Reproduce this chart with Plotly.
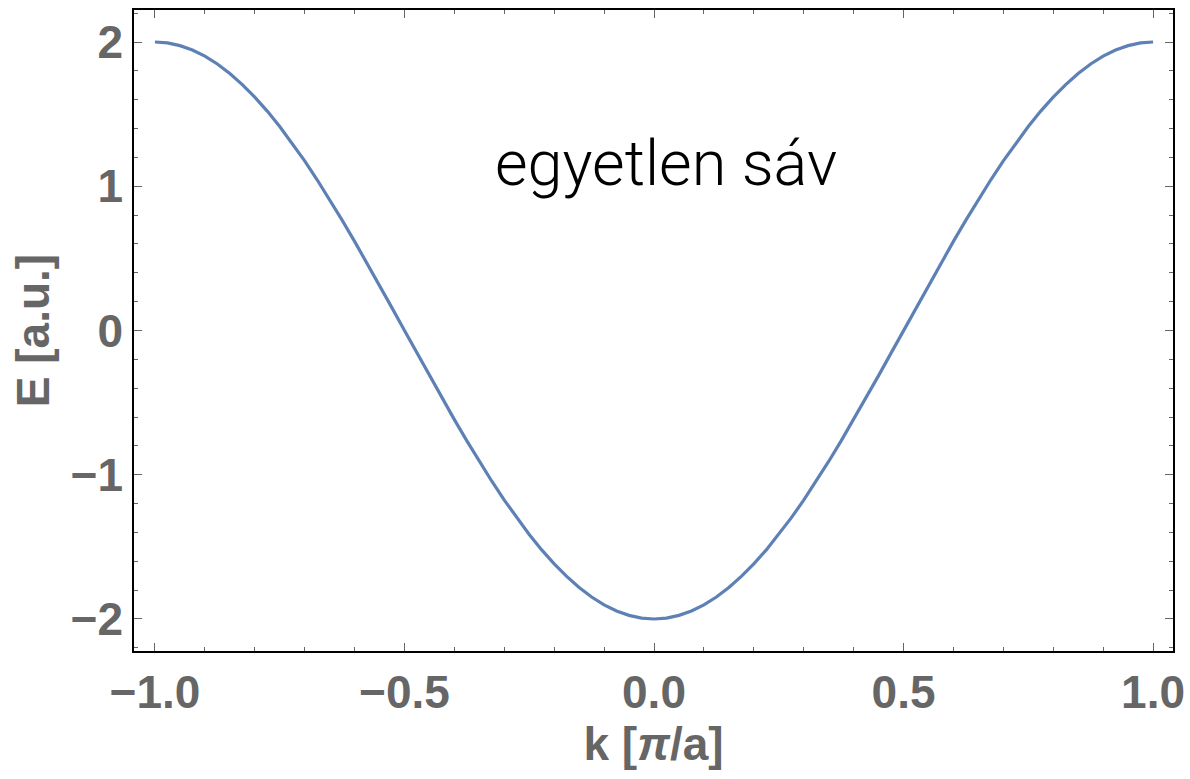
import plotly.graph_objects as go

# Data
k_values = [-1.0, -0.975, -0.95, -0.925, -0.9, -0.875, -0.85, -0.825, -0.8, -0.775,
            -0.75, -0.725, -0.7, -0.675, -0.65, -0.625, -0.6, -0.575, -0.55, -0.525,
            -0.5, -0.475, -0.45, -0.425, -0.4, -0.375, -0.35, -0.325, -0.3, -0.275,
            -0.25, -0.225, -0.2, -0.175, -0.15, -0.125, -0.1, -0.075, -0.05, -0.025,
            0.0, 0.025, 0.05, 0.075, 0.1, 0.125, 0.15, 0.175, 0.2, 0.225,
            0.25, 0.275, 0.3, 0.325, 0.35, 0.375, 0.4, 0.425, 0.45, 0.475,
            0.5, 0.525, 0.55, 0.575, 0.6, 0.625, 0.65, 0.675, 0.7, 0.725,
            0.75, 0.775, 0.8, 0.825, 0.85, 0.875, 0.9, 0.925, 0.95, 0.975, 1.0]
E_values = [2.000, 1.994, 1.975, 1.945, 1.902, 1.848, 1.782, 1.705, 1.618, 1.521,
            1.414, 1.299, 1.176, 1.045, 0.908, 0.765, 0.618, 0.467, 0.313, 0.157,
            0.000, -0.157, -0.313, -0.467, -0.618, -0.765, -0.908, -1.045, -1.176, -1.299,
            -1.414, -1.521, -1.618, -1.705, -1.782, -1.848, -1.902, -1.945, -1.975, -1.994,
            -2.000, -1.994, -1.975, -1.945, -1.902, -1.848, -1.782, -1.705, -1.618, -1.521,
            -1.414, -1.299, -1.176, -1.045, -0.908, -0.765, -0.618, -0.467, -0.313, -0.157,
            0.000, 0.157, 0.313, 0.467, 0.618, 0.765, 0.908, 1.045, 1.176, 1.299,
            1.414, 1.521, 1.618, 1.705, 1.782, 1.848, 1.902, 1.945, 1.975, 1.994, 2.000]
x_ticks = [-1.0, -0.5, 0.0, 0.5, 1.0]
x_tick_labels = ["\u22121.0", "\u22120.5", "0.0", "0.5", "1.0"]
y_ticks = [-2, -1, 0, 1, 2]
y_tick_labels = ["\u22122", "\u22121", "0", "1", "2"]
x_title = "k [<i>\u03c0</i>/a]"
y_title = "E [a.u.]"
label_text = "egyetlen sáv"

tick_font = dict(family="Liberation Sans, Arial, sans-serif", size=46, color="#666666", weight="bold")

fig = go.Figure()
fig.add_trace(go.Scatter(x=k_values, y=E_values, mode="lines",
                         line=dict(color="#5E81B5", width=3.2),
                         showlegend=False, hoverinfo="skip"))

axis_common = dict(
    showgrid=False, zeroline=False,
    showline=True, linecolor="black", linewidth=1.5, mirror="allticks",
    ticks="inside", ticklen=8, tickwidth=1.2, tickcolor="#666666",
    tickfont=tick_font,
)

fig.update_xaxes(
    range=[-1.042, 1.040],
    tickvals=x_ticks, ticktext=x_tick_labels,
    minor=dict(dtick=0.1, ticks="inside", ticklen=4, tickwidth=1.2, tickcolor="#666666", tick0=0),
    title=dict(text=x_title, font=tick_font, standoff=10),
    **axis_common,
)
fig.update_yaxes(
    range=[-2.222, 2.222],
    tickvals=y_ticks, ticktext=y_tick_labels,
    minor=dict(dtick=0.2, ticks="inside", ticklen=4, tickwidth=1.2, tickcolor="#666666", tick0=0),
    title=dict(text=y_title, font=tick_font, standoff=6),
    **axis_common,
)

fig.add_annotation(x=0.024, y=1.16, xref="x", yref="y", text=label_text,
                   showarrow=False, xanchor="center", yanchor="middle",
                   font=dict(family="Roboto, Liberation Sans, sans-serif", size=63,
                             color="black", weight=300))

fig.update_layout(
    width=1190, height=779,
    margin=dict(l=134, r=17, t=10, b=128, autoexpand=False),
    paper_bgcolor="white", plot_bgcolor="white",
)

fig.write_html("out.html")
